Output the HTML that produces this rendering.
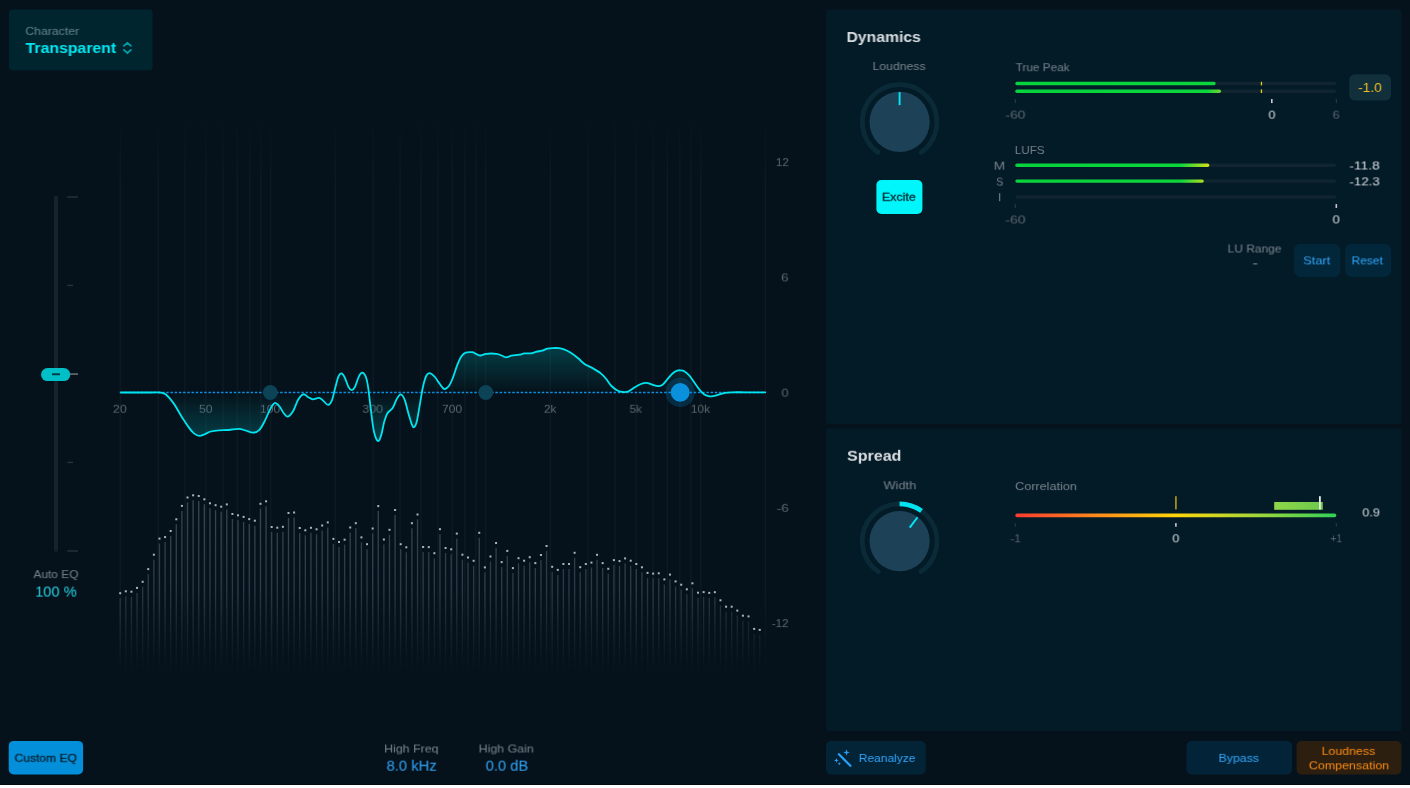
<!DOCTYPE html>
<html lang="en">
<head>
<meta charset="utf-8">
<title>Mastering Assistant</title>
<style>
html,body{margin:0;padding:0;background:#fff;}
body{width:1410px;height:788px;overflow:hidden;position:relative;font-family:"Liberation Sans", sans-serif;}
#app{position:absolute;left:0;top:0;width:1410px;height:785px;background:#06121b;overflow:hidden;}
.b{position:absolute;box-sizing:border-box;}
.t{position:absolute;white-space:nowrap;font-family:"Liberation Sans", sans-serif;will-change:transform;}
svg.ov{position:absolute;left:0;top:0;pointer-events:none;}
#app:after{content:"";position:absolute;left:0;right:0;bottom:0;height:1px;background:#020b14;}
</style>
</head>
<body>
<div id="app">
<svg class="ov" width="1410" height="785" viewBox="0 0 1410 785">
<rect x="8.9" y="9.5" width="143.8" height="60.8" rx="3.5" fill="#01252f"/>
<rect x="8.7" y="740.9" width="74.4" height="33.6" rx="5" fill="#038fd9"/>
<rect x="826" y="9.3" width="575.5" height="414.7" rx="3" fill="#031a27"/>
<rect x="826" y="428.5" width="575.5" height="302.5" rx="3" fill="#031a27"/>
<rect x="876.4" y="180.1" width="46" height="33.9" rx="5" fill="#00f6fa"/>
<rect x="1349.2" y="74.3" width="41.8" height="26.3" rx="5.5" fill="#11303c"/>
<rect x="1294" y="243.8" width="46.4" height="33.2" rx="6.5" fill="#03273a"/>
<rect x="1345.1" y="243.8" width="46" height="33.2" rx="6.5" fill="#03273a"/>
<rect x="826" y="741" width="99.8" height="33.5" rx="5" fill="#032336"/>
<rect x="1186.5" y="741" width="105.5" height="33.5" rx="5" fill="#032438"/>
<rect x="1296.6" y="741" width="104.8" height="33.5" rx="5" fill="#2c1f10"/>
</svg>
<svg class="ov" width="1410" height="785" viewBox="0 0 1410 785">
<path d="M123.9 45.9 L127.4 42.8 L130.9 45.9 M123.9 49.9 L127.4 53.0 L130.9 49.9" fill="none" stroke="#009fa9" stroke-width="1.8" stroke-linecap="round" stroke-linejoin="round"/>
<defs><linearGradient id="gg" x1="0" y1="115" x2="0" y2="672" gradientUnits="userSpaceOnUse"><stop offset="0" stop-color="#8fa3ad" stop-opacity="0"/><stop offset="0.12" stop-color="#8fa3ad" stop-opacity="0.055"/><stop offset="0.86" stop-color="#8fa3ad" stop-opacity="0.055"/><stop offset="1" stop-color="#8fa3ad" stop-opacity="0"/></linearGradient><linearGradient id="fillg" x1="0" y1="340" x2="0" y2="445" gradientUnits="userSpaceOnUse"><stop offset="0" stop-color="#00a0a8" stop-opacity="0.36"/><stop offset="0.5" stop-color="#00a0a8" stop-opacity="0"/><stop offset="1" stop-color="#00a0a8" stop-opacity="0.36"/></linearGradient><linearGradient id="barg" x1="0" y1="490" x2="0" y2="672" gradientUnits="userSpaceOnUse"><stop offset="0" stop-color="#3c4953" stop-opacity="1"/><stop offset="0.55" stop-color="#36434e" stop-opacity="0.8"/><stop offset="1" stop-color="#2a373f" stop-opacity="0"/></linearGradient></defs>
<path d="M120.3 115V672M158.2 115V672M185.0 115V672M205.9 115V672M222.9 115V672M237.3 115V672M249.8 115V672M260.8 115V672M270.6 115V672M335.3 115V672M373.2 115V672M400.1 115V672M420.9 115V672M437.9 115V672M452.3 115V672M464.8 115V672M475.8 115V672M485.6 115V672M550.4 115V672M588.2 115V672M615.1 115V672M635.9 115V672M653.0 115V672M667.4 115V672M679.8 115V672M690.8 115V672M700.7 115V672M765.4 115V672" stroke="url(#gg)" stroke-width="1.3" fill="none"/>
<path d="M120.20 598.2V671M125.81 596.3V671M131.42 596.7V671M137.03 592.9V671M142.64 586.8V671M148.25 574.1V671M153.86 559.7V671M159.47 543.6V671M165.08 542.1V671M170.69 536.0V671M176.30 524.3V671M181.91 510.9V671M187.52 502.5V671M193.13 500.3V671M198.74 501.0V671M204.35 504.3V671M209.96 508.3V671M215.57 510.2V671M221.18 511.7V671M226.79 509.4V671M232.40 519.0V671M238.01 520.3V671M243.62 521.9V671M249.23 524.1V671M254.84 525.7V671M260.45 508.8V671M266.06 506.3V671M271.67 532.0V671M277.28 532.7V671M282.89 531.8V671M288.50 518.0V671M294.11 517.5V671M299.72 533.0V671M305.33 535.3V671M310.94 532.8V671M316.55 534.3V671M322.16 530.5V671M327.77 527.4V671M333.38 543.9V671M338.99 547.0V671M344.60 544.7V671M350.21 532.5V671M355.82 528.2V671M361.43 542.4V671M367.04 549.2V671M372.65 533.5V671M378.26 511.1V671M383.87 544.5V671M389.48 534.8V671M395.09 515.0V671M400.70 549.2V671M406.31 552.3V671M411.92 528.2V671M417.53 519.5V671M423.14 552.0V671M428.75 552.1V671M434.36 558.2V671M439.97 534.2V671M445.58 553.0V671M451.19 554.3V671M456.80 538.6V671M462.41 559.7V671M468.02 562.5V671M473.63 565.8V671M479.24 537.8V671M484.85 572.4V671M490.46 561.5V671M496.07 548.0V671M501.68 567.1V671M507.29 555.9V671M512.90 573.1V671M518.51 563.2V671M524.12 565.7V671M529.73 562.2V671M535.34 568.1V671M540.95 560.0V671M546.56 551.0V671M552.17 571.8V671M557.78 574.9V671M563.39 569.0V671M569.00 569.0V671M574.61 557.8V671M580.22 572.2V671M585.83 569.0V671M591.44 567.6V671M597.05 559.8V671M602.66 568.1V671M608.27 573.8V671M613.88 565.1V671M619.49 566.1V671M625.10 563.4V671M630.71 565.7V671M636.32 569.0V671M641.93 572.3V671M647.54 577.9V671M653.15 578.6V671M658.76 578.3V671M664.37 584.4V671M669.98 579.6V671M675.59 586.4V671M681.20 589.7V671M686.81 594.3V671M692.42 588.3V671M698.03 597.7V671M703.64 597.1V671M709.25 597.9V671M714.86 597.2V671M720.47 605.3V671M726.08 611.7V671M731.69 611.7V671M737.30 615.6V671M742.91 620.7V671M748.52 621.4V671M754.13 633.9V671M759.74 634.9V671" stroke="url(#barg)" stroke-width="1.3" fill="none"/>
<g fill="#aeb3b7"><rect x="119.20" y="592.2" width="2" height="2"/><rect x="124.81" y="590.3" width="2" height="2"/><rect x="130.42" y="590.7" width="2" height="2"/><rect x="136.03" y="586.9" width="2" height="2"/><rect x="141.64" y="580.8" width="2" height="2"/><rect x="147.25" y="568.1" width="2" height="2"/><rect x="152.86" y="553.7" width="2" height="2"/><rect x="158.47" y="537.6" width="2" height="2"/><rect x="164.08" y="536.1" width="2" height="2"/><rect x="169.69" y="530.0" width="2" height="2"/><rect x="175.30" y="518.3" width="2" height="2"/><rect x="180.91" y="504.9" width="2" height="2"/><rect x="186.52" y="496.5" width="2" height="2"/><rect x="192.13" y="494.3" width="2" height="2"/><rect x="197.74" y="495.0" width="2" height="2"/><rect x="203.35" y="498.3" width="2" height="2"/><rect x="208.96" y="502.3" width="2" height="2"/><rect x="214.57" y="504.2" width="2" height="2"/><rect x="220.18" y="505.7" width="2" height="2"/><rect x="225.79" y="503.4" width="2" height="2"/><rect x="231.40" y="513.0" width="2" height="2"/><rect x="237.01" y="514.3" width="2" height="2"/><rect x="242.62" y="515.9" width="2" height="2"/><rect x="248.23" y="518.1" width="2" height="2"/><rect x="253.84" y="519.7" width="2" height="2"/><rect x="259.45" y="502.8" width="2" height="2"/><rect x="265.06" y="500.3" width="2" height="2"/><rect x="270.67" y="526.0" width="2" height="2"/><rect x="276.28" y="526.7" width="2" height="2"/><rect x="281.89" y="525.8" width="2" height="2"/><rect x="287.50" y="512.0" width="2" height="2"/><rect x="293.11" y="511.5" width="2" height="2"/><rect x="298.72" y="527.0" width="2" height="2"/><rect x="304.33" y="529.3" width="2" height="2"/><rect x="309.94" y="526.8" width="2" height="2"/><rect x="315.55" y="528.3" width="2" height="2"/><rect x="321.16" y="524.5" width="2" height="2"/><rect x="326.77" y="521.4" width="2" height="2"/><rect x="332.38" y="537.9" width="2" height="2"/><rect x="337.99" y="541.0" width="2" height="2"/><rect x="343.60" y="538.7" width="2" height="2"/><rect x="349.21" y="526.5" width="2" height="2"/><rect x="354.82" y="522.2" width="2" height="2"/><rect x="360.43" y="536.4" width="2" height="2"/><rect x="366.04" y="543.2" width="2" height="2"/><rect x="371.65" y="527.5" width="2" height="2"/><rect x="377.26" y="505.1" width="2" height="2"/><rect x="382.87" y="538.5" width="2" height="2"/><rect x="388.48" y="528.8" width="2" height="2"/><rect x="394.09" y="509.0" width="2" height="2"/><rect x="399.70" y="543.2" width="2" height="2"/><rect x="405.31" y="546.3" width="2" height="2"/><rect x="410.92" y="522.2" width="2" height="2"/><rect x="416.53" y="513.5" width="2" height="2"/><rect x="422.14" y="546.0" width="2" height="2"/><rect x="427.75" y="546.1" width="2" height="2"/><rect x="433.36" y="552.2" width="2" height="2"/><rect x="438.97" y="528.2" width="2" height="2"/><rect x="444.58" y="547.0" width="2" height="2"/><rect x="450.19" y="548.3" width="2" height="2"/><rect x="455.80" y="532.6" width="2" height="2"/><rect x="461.41" y="553.7" width="2" height="2"/><rect x="467.02" y="556.5" width="2" height="2"/><rect x="472.63" y="559.8" width="2" height="2"/><rect x="478.24" y="531.8" width="2" height="2"/><rect x="483.85" y="566.4" width="2" height="2"/><rect x="489.46" y="555.5" width="2" height="2"/><rect x="495.07" y="542.0" width="2" height="2"/><rect x="500.68" y="561.1" width="2" height="2"/><rect x="506.29" y="549.9" width="2" height="2"/><rect x="511.90" y="567.1" width="2" height="2"/><rect x="517.51" y="557.2" width="2" height="2"/><rect x="523.12" y="559.7" width="2" height="2"/><rect x="528.73" y="556.2" width="2" height="2"/><rect x="534.34" y="562.1" width="2" height="2"/><rect x="539.95" y="554.0" width="2" height="2"/><rect x="545.56" y="545.0" width="2" height="2"/><rect x="551.17" y="565.8" width="2" height="2"/><rect x="556.78" y="568.9" width="2" height="2"/><rect x="562.39" y="563.0" width="2" height="2"/><rect x="568.00" y="563.0" width="2" height="2"/><rect x="573.61" y="551.8" width="2" height="2"/><rect x="579.22" y="566.2" width="2" height="2"/><rect x="584.83" y="563.0" width="2" height="2"/><rect x="590.44" y="561.6" width="2" height="2"/><rect x="596.05" y="553.8" width="2" height="2"/><rect x="601.66" y="562.1" width="2" height="2"/><rect x="607.27" y="567.8" width="2" height="2"/><rect x="612.88" y="559.1" width="2" height="2"/><rect x="618.49" y="560.1" width="2" height="2"/><rect x="624.10" y="557.4" width="2" height="2"/><rect x="629.71" y="559.7" width="2" height="2"/><rect x="635.32" y="563.0" width="2" height="2"/><rect x="640.93" y="566.3" width="2" height="2"/><rect x="646.54" y="571.9" width="2" height="2"/><rect x="652.15" y="572.6" width="2" height="2"/><rect x="657.76" y="572.3" width="2" height="2"/><rect x="663.37" y="578.4" width="2" height="2"/><rect x="668.98" y="573.6" width="2" height="2"/><rect x="674.59" y="580.4" width="2" height="2"/><rect x="680.20" y="583.7" width="2" height="2"/><rect x="685.81" y="588.3" width="2" height="2"/><rect x="691.42" y="582.3" width="2" height="2"/><rect x="697.03" y="591.7" width="2" height="2"/><rect x="702.64" y="591.1" width="2" height="2"/><rect x="708.25" y="591.9" width="2" height="2"/><rect x="713.86" y="591.2" width="2" height="2"/><rect x="719.47" y="599.3" width="2" height="2"/><rect x="725.08" y="605.7" width="2" height="2"/><rect x="730.69" y="605.7" width="2" height="2"/><rect x="736.30" y="609.6" width="2" height="2"/><rect x="741.91" y="614.7" width="2" height="2"/><rect x="747.52" y="615.4" width="2" height="2"/><rect x="753.13" y="627.9" width="2" height="2"/><rect x="758.74" y="628.9" width="2" height="2"/></g>
</svg>
<div class="t" style="left:112px;top:402px;font-size:11.6px;line-height:12px;color:#5b676e;transform:translate(0.87px,0.80px) scaleX(1.0667) rotate(0.02deg);transform-origin:left center;">20</div>
<div class="t" style="left:198px;top:402px;font-size:11.6px;line-height:12px;color:#5b676e;transform:translate(0.97px,0.80px) scaleX(1.0583) rotate(0.02deg);transform-origin:left center;">50</div>
<div class="t" style="left:259px;top:402px;font-size:11.6px;line-height:12px;color:#5b676e;transform:translate(0.95px,0.80px) scaleX(1.0500) rotate(0.02deg);transform-origin:left center;">100</div>
<div class="t" style="left:362px;top:402px;font-size:11.6px;line-height:12px;color:#5b676e;transform:translate(0.36px,0.80px) scaleX(1.0757) rotate(0.02deg);transform-origin:left center;">300</div>
<div class="t" style="left:441px;top:402px;font-size:11.6px;line-height:12px;color:#5b676e;transform:translate(0.98px,0.80px) scaleX(1.0378) rotate(0.02deg);transform-origin:left center;">700</div>
<div class="t" style="left:543px;top:402px;font-size:11.6px;line-height:12px;color:#5b676e;transform:translate(0.99px,0.80px) scaleX(1.0128) rotate(0.02deg);transform-origin:left center;">2k</div>
<div class="t" style="left:629px;top:402px;font-size:11.6px;line-height:12px;color:#5b676e;transform:translate(0.49px,0.80px) scaleX(1.0128) rotate(0.02deg);transform-origin:left center;">5k</div>
<div class="t" style="left:690px;top:402px;font-size:11.6px;line-height:12px;color:#5b676e;transform:translate(0.88px,0.80px) scaleX(1.0229) rotate(0.02deg);transform-origin:left center;">10k</div>
<svg class="ov" width="1410" height="785" viewBox="0 0 1410 785">
<path d="M121.0 392.5C125.8 392.5 143.5 392.5 150.0 392.5C156.5 392.5 157.1 392.1 159.8 392.5C162.5 392.9 163.9 392.8 166.2 394.7C168.5 396.6 171.2 400.0 173.8 403.6C176.4 407.2 178.9 412.3 181.5 416.4C184.1 420.4 187.0 425.0 189.1 427.9C191.2 430.8 192.6 432.3 194.3 433.6C196.0 434.9 197.7 435.7 199.4 435.8C201.1 435.9 202.6 435.0 204.5 434.3C206.4 433.6 208.6 432.1 210.9 431.5C213.2 430.9 215.5 430.6 218.5 430.4C221.5 430.1 225.3 430.3 228.7 430.0C232.1 429.7 236.1 428.7 238.9 428.8C241.7 428.9 243.0 429.8 245.3 430.4C247.7 431.0 250.7 432.8 253.0 432.7C255.3 432.6 257.5 431.7 259.4 429.8C261.3 427.9 262.8 424.7 264.5 421.5C266.2 418.3 268.2 413.2 269.6 410.4C271.0 407.6 272.0 405.9 273.0 404.7C274.0 403.5 274.6 402.6 275.7 403.0C276.8 403.4 278.5 405.1 279.8 406.8C281.1 408.5 282.3 411.4 283.6 413.0C284.9 414.6 286.1 416.9 287.7 416.6C289.3 416.3 291.3 414.1 293.0 411.3C294.7 408.5 296.4 402.6 298.1 399.8C299.8 397.0 301.5 394.7 303.2 394.3C304.9 393.9 306.7 396.4 308.3 397.2C309.9 398.0 311.0 399.3 312.8 399.4C314.6 399.5 317.4 397.6 319.2 397.9C321.0 398.2 322.1 399.9 323.6 401.1C325.1 402.3 326.7 405.0 328.1 404.9C329.5 404.8 330.7 403.2 331.9 400.4C333.1 397.6 334.0 392.2 335.1 388.3C336.2 384.4 337.2 379.3 338.3 376.8C339.4 374.3 340.4 373.3 341.5 373.4C342.6 373.5 343.5 375.1 344.7 377.4C345.9 379.7 347.3 384.9 348.5 387.0C349.7 389.1 350.6 390.2 351.7 390.2C352.8 390.2 353.7 389.2 354.9 387.0C356.1 384.8 357.5 379.2 358.7 376.8C359.9 374.4 361.0 372.7 362.2 372.7C363.4 372.7 364.8 374.2 365.8 376.8C366.8 379.4 367.5 382.8 368.3 388.3C369.1 393.8 369.9 402.8 370.9 410.0C371.8 417.2 372.8 426.5 374.0 431.7C375.2 436.9 376.7 440.4 377.9 441.0C379.1 441.6 380.0 438.8 381.1 435.5C382.2 432.2 383.2 425.2 384.3 421.5C385.4 417.8 386.1 415.4 387.5 413.2C388.9 411.0 391.0 410.6 392.6 408.1C394.2 405.7 395.6 400.8 397.0 398.5C398.4 396.2 399.6 394.1 400.9 394.3C402.2 394.5 403.4 396.6 404.7 399.8C406.0 403.1 407.3 409.8 408.5 413.8C409.7 417.8 410.8 421.8 411.7 424.0C412.6 426.2 413.1 427.6 414.0 427.2C414.9 426.8 415.8 425.4 416.8 421.5C417.8 417.6 418.9 409.6 420.0 403.6C421.1 397.6 422.1 390.4 423.2 385.7C424.3 381.0 425.3 377.6 426.4 375.5C427.5 373.4 428.4 372.9 429.8 373.1C431.2 373.4 433.2 375.2 434.9 377.0C436.5 378.8 438.1 381.8 439.7 383.8C441.2 385.8 442.6 388.7 444.2 389.0C445.8 389.3 447.6 387.6 449.1 385.7C450.6 383.8 451.6 380.9 453.0 377.4C454.4 373.9 456.0 368.2 457.4 364.7C458.8 361.2 459.9 358.4 461.3 356.4C462.7 354.4 463.9 353.3 465.7 352.6C467.5 351.9 470.4 352.0 472.1 352.2C473.8 352.4 474.6 353.2 476.0 353.8C477.4 354.4 478.7 355.5 480.4 355.5C482.1 355.5 483.5 354.1 486.2 353.8C488.9 353.5 493.8 353.5 496.4 353.8C498.9 354.1 499.9 354.9 501.5 355.5C503.1 356.1 504.3 357.3 506.0 357.3C507.7 357.3 509.5 356.1 511.7 355.7C513.9 355.3 517.3 355.1 519.4 354.7C521.5 354.3 522.6 353.6 524.5 353.4C526.4 353.2 529.0 353.6 530.9 353.4C532.8 353.1 534.1 352.4 536.0 351.9C537.9 351.4 540.4 351.1 542.3 350.6C544.2 350.1 545.7 349.1 547.4 348.7C549.1 348.3 550.7 348.2 552.6 348.1C554.5 348.0 557.0 347.9 558.9 348.1C560.8 348.3 562.1 348.6 564.0 349.4C565.9 350.1 568.0 351.1 570.4 352.6C572.8 354.1 575.8 356.4 578.1 358.3C580.5 360.2 582.2 362.4 584.5 364.0C586.8 365.6 589.3 366.3 592.1 367.9C594.9 369.5 598.8 371.8 601.1 373.6C603.5 375.5 604.5 376.9 606.2 379.0C607.9 381.1 609.5 384.0 611.5 386.0C613.5 388.0 616.0 389.8 617.9 390.8C619.8 391.8 621.3 391.9 623.0 392.0C624.7 392.1 626.2 392.2 628.1 391.5C630.0 390.8 632.4 388.8 634.5 387.5C636.6 386.2 638.9 384.8 640.9 384.0C642.9 383.2 644.7 382.7 646.6 382.8C648.5 382.9 650.4 384.1 652.3 384.7C654.2 385.3 656.4 386.2 658.1 386.2C659.8 386.2 661.0 385.9 662.6 384.7C664.2 383.5 666.0 380.8 667.7 378.9C669.4 377.0 671.2 374.6 672.8 373.2C674.4 371.8 675.9 371.1 677.2 370.6C678.5 370.1 679.2 370.2 680.4 370.3C681.6 370.4 682.8 370.4 684.3 371.3C685.8 372.2 687.7 373.8 689.4 375.7C691.1 377.6 692.8 380.4 694.5 382.8C696.2 385.2 698.0 387.9 699.6 389.8C701.2 391.7 702.5 393.2 704.0 394.3C705.5 395.4 707.0 395.9 708.5 396.2C710.0 396.5 711.3 396.5 713.0 396.2C714.7 395.9 716.7 395.2 718.7 394.6C720.7 394.0 722.8 393.2 725.1 392.8C727.5 392.4 729.5 392.4 732.8 392.3C736.1 392.2 739.6 392.3 745.0 392.3C750.4 392.3 761.9 392.3 765.3 392.3L765.3 392.5L120 392.5Z" fill="url(#fillg)" stroke="none"/>
<path d="M119.8 392.4H766" stroke="#0b8fe0" stroke-width="1.5" stroke-dasharray="2.5 1.72" fill="none"/>
<circle cx="270.3" cy="392.5" r="7.4" fill="#0c4356"/>
<circle cx="485.8" cy="392.5" r="7.4" fill="#0c4356"/>
<path d="M121.0 392.5C125.8 392.5 143.5 392.5 150.0 392.5C156.5 392.5 157.1 392.1 159.8 392.5C162.5 392.9 163.9 392.8 166.2 394.7C168.5 396.6 171.2 400.0 173.8 403.6C176.4 407.2 178.9 412.3 181.5 416.4C184.1 420.4 187.0 425.0 189.1 427.9C191.2 430.8 192.6 432.3 194.3 433.6C196.0 434.9 197.7 435.7 199.4 435.8C201.1 435.9 202.6 435.0 204.5 434.3C206.4 433.6 208.6 432.1 210.9 431.5C213.2 430.9 215.5 430.6 218.5 430.4C221.5 430.1 225.3 430.3 228.7 430.0C232.1 429.7 236.1 428.7 238.9 428.8C241.7 428.9 243.0 429.8 245.3 430.4C247.7 431.0 250.7 432.8 253.0 432.7C255.3 432.6 257.5 431.7 259.4 429.8C261.3 427.9 262.8 424.7 264.5 421.5C266.2 418.3 268.2 413.2 269.6 410.4C271.0 407.6 272.0 405.9 273.0 404.7C274.0 403.5 274.6 402.6 275.7 403.0C276.8 403.4 278.5 405.1 279.8 406.8C281.1 408.5 282.3 411.4 283.6 413.0C284.9 414.6 286.1 416.9 287.7 416.6C289.3 416.3 291.3 414.1 293.0 411.3C294.7 408.5 296.4 402.6 298.1 399.8C299.8 397.0 301.5 394.7 303.2 394.3C304.9 393.9 306.7 396.4 308.3 397.2C309.9 398.0 311.0 399.3 312.8 399.4C314.6 399.5 317.4 397.6 319.2 397.9C321.0 398.2 322.1 399.9 323.6 401.1C325.1 402.3 326.7 405.0 328.1 404.9C329.5 404.8 330.7 403.2 331.9 400.4C333.1 397.6 334.0 392.2 335.1 388.3C336.2 384.4 337.2 379.3 338.3 376.8C339.4 374.3 340.4 373.3 341.5 373.4C342.6 373.5 343.5 375.1 344.7 377.4C345.9 379.7 347.3 384.9 348.5 387.0C349.7 389.1 350.6 390.2 351.7 390.2C352.8 390.2 353.7 389.2 354.9 387.0C356.1 384.8 357.5 379.2 358.7 376.8C359.9 374.4 361.0 372.7 362.2 372.7C363.4 372.7 364.8 374.2 365.8 376.8C366.8 379.4 367.5 382.8 368.3 388.3C369.1 393.8 369.9 402.8 370.9 410.0C371.8 417.2 372.8 426.5 374.0 431.7C375.2 436.9 376.7 440.4 377.9 441.0C379.1 441.6 380.0 438.8 381.1 435.5C382.2 432.2 383.2 425.2 384.3 421.5C385.4 417.8 386.1 415.4 387.5 413.2C388.9 411.0 391.0 410.6 392.6 408.1C394.2 405.7 395.6 400.8 397.0 398.5C398.4 396.2 399.6 394.1 400.9 394.3C402.2 394.5 403.4 396.6 404.7 399.8C406.0 403.1 407.3 409.8 408.5 413.8C409.7 417.8 410.8 421.8 411.7 424.0C412.6 426.2 413.1 427.6 414.0 427.2C414.9 426.8 415.8 425.4 416.8 421.5C417.8 417.6 418.9 409.6 420.0 403.6C421.1 397.6 422.1 390.4 423.2 385.7C424.3 381.0 425.3 377.6 426.4 375.5C427.5 373.4 428.4 372.9 429.8 373.1C431.2 373.4 433.2 375.2 434.9 377.0C436.5 378.8 438.1 381.8 439.7 383.8C441.2 385.8 442.6 388.7 444.2 389.0C445.8 389.3 447.6 387.6 449.1 385.7C450.6 383.8 451.6 380.9 453.0 377.4C454.4 373.9 456.0 368.2 457.4 364.7C458.8 361.2 459.9 358.4 461.3 356.4C462.7 354.4 463.9 353.3 465.7 352.6C467.5 351.9 470.4 352.0 472.1 352.2C473.8 352.4 474.6 353.2 476.0 353.8C477.4 354.4 478.7 355.5 480.4 355.5C482.1 355.5 483.5 354.1 486.2 353.8C488.9 353.5 493.8 353.5 496.4 353.8C498.9 354.1 499.9 354.9 501.5 355.5C503.1 356.1 504.3 357.3 506.0 357.3C507.7 357.3 509.5 356.1 511.7 355.7C513.9 355.3 517.3 355.1 519.4 354.7C521.5 354.3 522.6 353.6 524.5 353.4C526.4 353.2 529.0 353.6 530.9 353.4C532.8 353.1 534.1 352.4 536.0 351.9C537.9 351.4 540.4 351.1 542.3 350.6C544.2 350.1 545.7 349.1 547.4 348.7C549.1 348.3 550.7 348.2 552.6 348.1C554.5 348.0 557.0 347.9 558.9 348.1C560.8 348.3 562.1 348.6 564.0 349.4C565.9 350.1 568.0 351.1 570.4 352.6C572.8 354.1 575.8 356.4 578.1 358.3C580.5 360.2 582.2 362.4 584.5 364.0C586.8 365.6 589.3 366.3 592.1 367.9C594.9 369.5 598.8 371.8 601.1 373.6C603.5 375.5 604.5 376.9 606.2 379.0C607.9 381.1 609.5 384.0 611.5 386.0C613.5 388.0 616.0 389.8 617.9 390.8C619.8 391.8 621.3 391.9 623.0 392.0C624.7 392.1 626.2 392.2 628.1 391.5C630.0 390.8 632.4 388.8 634.5 387.5C636.6 386.2 638.9 384.8 640.9 384.0C642.9 383.2 644.7 382.7 646.6 382.8C648.5 382.9 650.4 384.1 652.3 384.7C654.2 385.3 656.4 386.2 658.1 386.2C659.8 386.2 661.0 385.9 662.6 384.7C664.2 383.5 666.0 380.8 667.7 378.9C669.4 377.0 671.2 374.6 672.8 373.2C674.4 371.8 675.9 371.1 677.2 370.6C678.5 370.1 679.2 370.2 680.4 370.3C681.6 370.4 682.8 370.4 684.3 371.3C685.8 372.2 687.7 373.8 689.4 375.7C691.1 377.6 692.8 380.4 694.5 382.8C696.2 385.2 698.0 387.9 699.6 389.8C701.2 391.7 702.5 393.2 704.0 394.3C705.5 395.4 707.0 395.9 708.5 396.2C710.0 396.5 711.3 396.5 713.0 396.2C714.7 395.9 716.7 395.2 718.7 394.6C720.7 394.0 722.8 393.2 725.1 392.8C727.5 392.4 729.5 392.4 732.8 392.3C736.1 392.2 739.6 392.3 745.0 392.3C750.4 392.3 761.9 392.3 765.3 392.3" fill="none" stroke="#00e4f0" stroke-width="1.8" stroke-linecap="round" stroke-linejoin="round"/>
<circle cx="680.2" cy="392.4" r="14.6" fill="#0a8fe0" fill-opacity="0.21"/>
<circle cx="680.2" cy="392.4" r="9.4" fill="#0a90dc"/>
<rect x="54" y="195.7" width="4" height="356.3" rx="2" fill="#15232c"/>
<rect x="67.2" y="196.3" width="10.8" height="1.4" fill="#26333b"/>
<rect x="67.2" y="284.7" width="5.8" height="1.4" fill="#26333b"/>
<rect x="67.2" y="461.7" width="5.8" height="1.4" fill="#26333b"/>
<rect x="67.2" y="550.3" width="10.8" height="1.4" fill="#26333b"/>
<rect x="69" y="373.3" width="9" height="1.5" fill="#6a747a"/>
<rect x="41" y="368" width="29.3" height="13.1" rx="6.55" fill="#00bfc6"/>
<rect x="52" y="373.3" width="8" height="1.9" fill="#073a42"/>
<path d="M878.21 152.45A37.3 37.3 0 1 1 920.99 152.45" fill="none" stroke="#0a2a38" stroke-width="4.8" stroke-linecap="round"/>
<circle cx="899.6" cy="121.9" r="30.1" fill="#1d4257"/>
<path d="M899.60 92.10L899.60 105.10" stroke="#00eaf6" stroke-width="1.9" fill="none"/>
<path d="M878.21 571.65A37.3 37.3 0 1 1 920.99 571.65" fill="none" stroke="#0a2a38" stroke-width="4.8" stroke-linecap="round"/>
<path d="M899.60 503.80A37.3 37.3 0 0 1 921.52 510.92" fill="none" stroke="#00e4f0" stroke-width="4.8"/>
<circle cx="899.6" cy="541.1" r="30.1" fill="#1d4257"/>
<path d="M917.53 517.30L909.71 527.68" stroke="#00eaf6" stroke-width="1.9" fill="none"/>
<defs><linearGradient id="gr1" x1="1015.3" y1="0" x2="1222" y2="0" gradientUnits="userSpaceOnUse"><stop offset="0" stop-color="#08d23c"/><stop offset="0.93" stop-color="#0cd63c"/><stop offset="1" stop-color="#7ad430"/></linearGradient><linearGradient id="gr0" x1="0" y1="0" x2="1" y2="0"><stop offset="0" stop-color="#08d23c"/><stop offset="1" stop-color="#0cd63c"/></linearGradient><linearGradient id="gr2" x1="1015.3" y1="0" x2="1210" y2="0" gradientUnits="userSpaceOnUse"><stop offset="0" stop-color="#08d23c"/><stop offset="0.85" stop-color="#0cd63c"/><stop offset="1" stop-color="#dce018"/></linearGradient><linearGradient id="corr" x1="1015.3" y1="0" x2="1336.3" y2="0" gradientUnits="userSpaceOnUse"><stop offset="0" stop-color="#ff3b30"/><stop offset="0.25" stop-color="#ff8a1c"/><stop offset="0.5" stop-color="#ffd60a"/><stop offset="0.75" stop-color="#a4d63a"/><stop offset="1" stop-color="#30d158"/></linearGradient><linearGradient id="cblk" x1="1274" y1="0" x2="1323" y2="0" gradientUnits="userSpaceOnUse"><stop offset="0" stop-color="#8fd648"/><stop offset="1" stop-color="#6cc94c"/></linearGradient></defs>
<rect x="1015.3" y="81.85" width="321" height="3.5" rx="1.75" fill="#10252f"/>
<rect x="1015.3" y="81.85" width="200.4" height="3.5" rx="1.75" fill="url(#gr0)"/>
<rect x="1015.3" y="89.45" width="321" height="3.5" rx="1.75" fill="#10252f"/>
<rect x="1015.3" y="89.45" width="205.7" height="3.5" rx="1.75" fill="url(#gr1)"/>
<rect x="1260.8" y="81.8" width="1.3" height="3.6" fill="#f0c818"/><rect x="1260.8" y="89.4" width="1.3" height="3.6" fill="#f0c818"/>
<rect x="1014.75" y="99" width="1.1" height="4.1" fill="#2b3a44"/>
<rect x="1271" y="99" width="1.6" height="4.1" fill="#c8ccd0"/>
<rect x="1335.75" y="99" width="1.1" height="4.1" fill="#2b3a44"/>
<rect x="1015.3" y="163.6" width="321" height="3.4" rx="1.7" fill="#10252f"/>
<rect x="1015.3" y="163.6" width="194" height="3.4" rx="1.7" fill="url(#gr2)"/>
<rect x="1015.3" y="179.4" width="321" height="3.4" rx="1.7" fill="#10252f"/>
<rect x="1015.3" y="179.4" width="188.5" height="3.4" rx="1.7" fill="url(#gr2)"/>
<rect x="1015.3" y="195.3" width="321" height="3.4" rx="1.7" fill="#10252f"/>
<rect x="1014.75" y="204.1" width="1.1" height="3.8" fill="#2b3a44"/>
<rect x="1335.5" y="204.1" width="1.6" height="3.8" fill="#c8ccd0"/>
<rect x="1015.3" y="513.6" width="321" height="3.6" rx="1.8" fill="url(#corr)"/>
<rect x="1175" y="496.2" width="1.8" height="13.2" fill="#a38d1e"/>
<rect x="1274.2" y="502" width="48.6" height="7.8" fill="url(#cblk)"/>
<rect x="1319" y="496.2" width="1.8" height="13.2" fill="#e8ecee"/>
<rect x="1014.75" y="523.1" width="1.1" height="3.6" fill="#2b3a44"/>
<rect x="1175.1" y="523.1" width="1.6" height="3.6" fill="#c8ccd0"/>
<rect x="1335.75" y="523.1" width="1.1" height="3.6" fill="#2b3a44"/>
<path d="M838.9 754.3L850.4 765.8" stroke="#2a9df4" stroke-width="2.3" stroke-linecap="round" fill="none"/>
<path d="M846.50 749.20L847.34 751.66L849.80 752.50L847.34 753.34L846.50 755.80L845.66 753.34L843.20 752.50L845.66 751.66ZM836.40 757.90L837.04 759.76L838.90 760.40L837.04 761.04L836.40 762.90L835.76 761.04L833.90 760.40L835.76 759.76ZM839.30 761.90L839.76 763.24L841.10 763.70L839.76 764.16L839.30 765.50L838.84 764.16L837.50 763.70L838.84 763.24Z" fill="#2a9df4"/>
</svg>
<div class="t" style="left:25px;top:24px;font-size:11.6px;line-height:12px;color:#64838a;transform:translate(0.37px,0.90px) scaleX(1.0567) rotate(0.02deg);transform-origin:left center;">Character</div>
<div class="t" style="left:25px;top:40px;font-size:14.4px;line-height:16px;color:#00e8f2;font-weight:700;transform:translate(0.63px,0.00px) scaleX(1.0988) rotate(0.02deg);transform-origin:left center;">Transparent</div>
<div class="t" style="left:775px;top:156px;font-size:11.6px;line-height:12px;color:#5b676e;transform:translate(0.90px,0.10px) scaleX(0.9956) rotate(0.02deg);transform-origin:left center;">12</div>
<div class="t" style="left:781px;top:271px;font-size:11.6px;line-height:12px;color:#5b676e;transform:translate(0.12px,0.40px) scaleX(1.1636) rotate(0.02deg);transform-origin:left center;">6</div>
<div class="t" style="left:781px;top:386px;font-size:11.6px;line-height:12px;color:#5b676e;transform:translate(0.45px,0.70px) scaleX(1.1091) rotate(0.02deg);transform-origin:left center;">0</div>
<div class="t" style="left:776px;top:501px;font-size:11.6px;line-height:12px;color:#5b676e;transform:translate(0.72px,0.90px) scaleX(1.1676) rotate(0.02deg);transform-origin:left center;">-6</div>
<div class="t" style="left:771px;top:617px;font-size:11.6px;line-height:12px;color:#5b676e;transform:translate(0.80px,0.10px) rotate(0.02deg);transform-origin:left center;">-12</div>
<div class="t" style="left:33px;top:568px;font-size:11.6px;line-height:12px;color:#76828a;transform:translate(0.50px,0.10px) scaleX(1.0243) rotate(0.02deg);transform-origin:left center;">Auto EQ</div>
<div class="t" style="left:35px;top:583px;font-size:14px;line-height:16px;color:#22d2e4;transform:translate(0.26px,0.60px) scaleX(1.0431) rotate(0.02deg);transform-origin:left center;">100 %</div>
<div class="t" style="left:14px;top:751px;font-size:11.6px;line-height:12px;color:#041c2a;transform:translate(0.58px,0.80px) scaleX(1.0417) rotate(0.02deg);transform-origin:left center;-webkit-text-stroke:0.25px #041c2a;">Custom EQ</div>
<div class="t" style="left:384px;top:742px;font-size:11.6px;line-height:12px;color:#76828a;transform:translate(0.13px,0.50px) scaleX(1.0701) rotate(0.02deg);transform-origin:left center;">High Freq</div>
<div class="t" style="left:386px;top:757px;font-size:14px;line-height:16px;color:#2fa5fb;transform:translate(0.57px,0.70px) scaleX(1.0551) rotate(0.02deg);transform-origin:left center;">8.0 kHz</div>
<div class="t" style="left:478px;top:742px;font-size:11.6px;line-height:12px;color:#76828a;transform:translate(0.63px,0.50px) scaleX(1.0693) rotate(0.02deg);transform-origin:left center;">High Gain</div>
<div class="t" style="left:485px;top:757px;font-size:14px;line-height:16px;color:#2fa5fb;transform:translate(0.67px,0.70px) scaleX(1.0522) rotate(0.02deg);transform-origin:left center;">0.0 dB</div>
<div class="t" style="left:846px;top:28px;font-size:15.2px;line-height:17px;color:#d8dde0;font-weight:700;transform:translate(0.57px,0.00px) scaleX(1.0349) rotate(0.02deg);transform-origin:left center;">Dynamics</div>
<div class="t" style="left:847px;top:446px;font-size:15.2px;line-height:17px;color:#d8dde0;font-weight:700;transform:translate(0.07px,0.80px) scaleX(1.0560) rotate(0.02deg);transform-origin:left center;">Spread</div>
<div class="t" style="left:872px;top:60px;font-size:11.6px;line-height:12px;color:#76828a;transform:translate(0.54px,0.00px) scaleX(1.0551) rotate(0.02deg);transform-origin:left center;">Loudness</div>
<div class="t" style="left:883px;top:479px;font-size:11.6px;line-height:12px;color:#76828a;transform:translate(0.50px,0.20px) scaleX(1.1069) rotate(0.02deg);transform-origin:left center;">Width</div>
<div class="t" style="left:881px;top:190px;font-size:11.6px;line-height:12px;color:#03222c;transform:translate(0.93px,0.80px) scaleX(1.0733) rotate(0.02deg);transform-origin:left center;-webkit-text-stroke:0.3px #03222c;">Excite</div>
<div class="t" style="left:1015px;top:61px;font-size:11.6px;line-height:12px;color:#76828a;transform:translate(0.65px,0.20px) scaleX(1.0161) rotate(0.02deg);transform-origin:left center;">True Peak</div>
<div class="t" style="left:1005px;top:108px;font-size:11.6px;line-height:12px;color:#5b676e;transform:translate(0.40px,0.60px) scaleX(1.2000) rotate(0.02deg);transform-origin:left center;">-60</div>
<div class="t" style="left:1268px;top:108px;font-size:11.6px;line-height:12px;color:#d8dde0;transform:translate(0.45px,0.70px) scaleX(1.0909) rotate(0.02deg);transform-origin:left center;">0</div>
<div class="t" style="left:1332px;top:108px;font-size:11.6px;line-height:12px;color:#5b676e;transform:translate(0.65px,0.70px) scaleX(1.0909) rotate(0.02deg);transform-origin:left center;">6</div>
<div class="t" style="left:1358px;top:81px;font-size:12.2px;line-height:14px;color:#f0c020;transform:translate(0.24px,0.00px) scaleX(1.1200) rotate(0.02deg);transform-origin:left center;">-1.0</div>
<div class="t" style="left:1014px;top:144px;font-size:11.6px;line-height:12px;color:#76828a;transform:translate(0.79px,0.00px) scaleX(1.0071) rotate(0.02deg);transform-origin:left center;">LUFS</div>
<div class="t" style="left:993px;top:159px;font-size:11.6px;line-height:12px;color:#76828a;transform:translate(0.73px,0.70px) scaleX(1.1742) rotate(0.02deg);transform-origin:left center;">M</div>
<div class="t" style="left:996px;top:175px;font-size:11.6px;line-height:12px;color:#76828a;transform:translate(0.25px,0.60px) scaleX(0.9037) rotate(0.02deg);transform-origin:left center;">S</div>
<div class="t" style="left:997px;top:191px;font-size:11.6px;line-height:12px;color:#76828a;transform:translate(0.96px,0.20px) scaleX(1.0400) rotate(0.02deg);transform-origin:left center;">I</div>
<div class="t" style="left:1349px;top:159px;font-size:11.1px;line-height:12px;color:#d8dde0;transform:translate(0.38px,0.50px) scaleX(1.2468) rotate(0.02deg);transform-origin:left center;">-11.8</div>
<div class="t" style="left:1349px;top:175px;font-size:11.1px;line-height:12px;color:#d8dde0;transform:translate(0.40px,0.40px) scaleX(1.2082) rotate(0.02deg);transform-origin:left center;">-12.3</div>
<div class="t" style="left:1005px;top:213px;font-size:11.6px;line-height:12px;color:#5b676e;transform:translate(0.29px,0.50px) scaleX(1.2127) rotate(0.02deg);transform-origin:left center;">-60</div>
<div class="t" style="left:1332px;top:213px;font-size:11.6px;line-height:12px;color:#d8dde0;transform:translate(0.54px,0.40px) scaleX(1.1273) rotate(0.02deg);transform-origin:left center;">0</div>
<div class="t" style="left:1227px;top:242px;font-size:11.6px;line-height:12px;color:#76828a;transform:translate(0.57px,0.50px) scaleX(1.0325) rotate(0.02deg);transform-origin:left center;">LU Range</div>
<div class="t" style="left:1252px;top:256px;font-size:11.6px;line-height:12px;color:#9aa4aa;transform:translate(0.49px,0.40px) scaleX(1.4182) rotate(0.02deg);transform-origin:left center;">-</div>
<div class="t" style="left:1303px;top:254px;font-size:11.6px;line-height:12px;color:#2fa5fb;transform:translate(0.25px,0.40px) scaleX(1.1083) rotate(0.02deg);transform-origin:left center;">Start</div>
<div class="t" style="left:1351px;top:254px;font-size:11.6px;line-height:12px;color:#2fa5fb;transform:translate(0.57px,0.40px) scaleX(1.0325) rotate(0.02deg);transform-origin:left center;">Reset</div>
<div class="t" style="left:1015px;top:480px;font-size:11.6px;line-height:12px;color:#76828a;transform:translate(0.15px,0.10px) scaleX(1.0901) rotate(0.02deg);transform-origin:left center;">Correlation</div>
<div class="t" style="left:1010px;top:532px;font-size:11.6px;line-height:12px;color:#5b676e;transform:translate(0.60px,0.30px) scaleX(0.9946) rotate(0.02deg);transform-origin:left center;">-1</div>
<div class="t" style="left:1172px;top:532px;font-size:11.6px;line-height:12px;color:#d8dde0;transform:translate(0.35px,0.30px) scaleX(1.0909) rotate(0.02deg);transform-origin:left center;">0</div>
<div class="t" style="left:1330px;top:532px;font-size:11.6px;line-height:12px;color:#5b676e;transform:translate(0.46px,0.20px) scaleX(0.8816) rotate(0.02deg);transform-origin:left center;">+1</div>
<div class="t" style="left:1362px;top:506px;font-size:11.1px;line-height:12px;color:#d8dde0;transform:translate(0.33px,0.40px) scaleX(1.1448) rotate(0.02deg);transform-origin:left center;">0.9</div>
<div class="t" style="left:858px;top:752px;font-size:11.6px;line-height:12px;color:#2fa5fb;transform:translate(0.77px,0.00px) scaleX(1.0329) rotate(0.02deg);transform-origin:left center;">Reanalyze</div>
<div class="t" style="left:1218px;top:751px;font-size:11.6px;line-height:12px;color:#2fa5fb;transform:translate(0.53px,0.90px) scaleX(1.0667) rotate(0.02deg);transform-origin:left center;">Bypass</div>
<div class="t" style="left:1321px;top:744px;font-size:11.6px;line-height:12px;color:#fb8a12;transform:translate(0.63px,0.90px) scaleX(1.0653) rotate(0.02deg);transform-origin:left center;">Loudness</div>
<div class="t" style="left:1308px;top:759px;font-size:11.6px;line-height:12px;color:#fb8a12;transform:translate(0.86px,0.30px) scaleX(1.0735) rotate(0.02deg);transform-origin:left center;">Compensation</div>
</div>
</body>
</html>
